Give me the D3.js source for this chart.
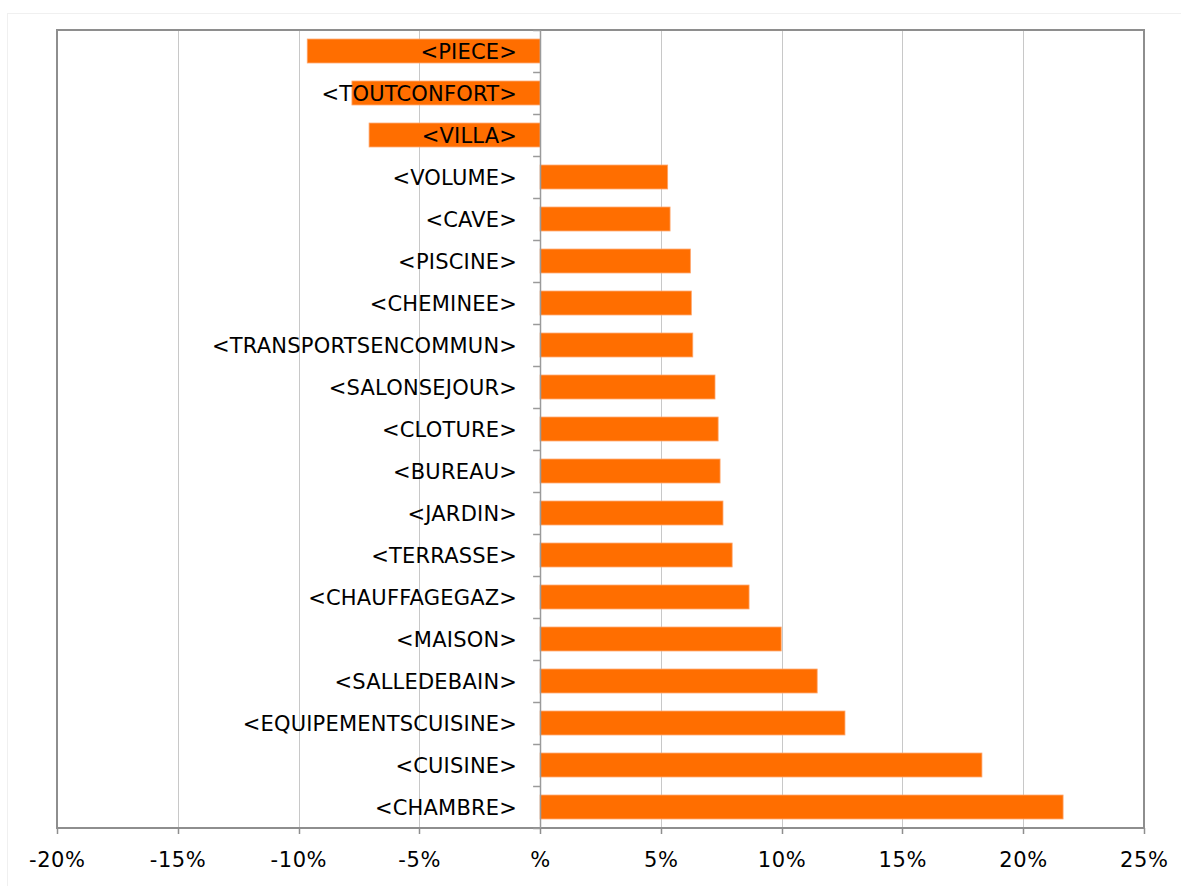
<!DOCTYPE html>
<html>
<head>
<meta charset="utf-8">
<script src="https://cdn.jsdelivr.net/npm/d3@7"></script>
<style>
  body { margin: 0; background: #fff; }
  text { font-family: "DejaVu Sans", Verdana, sans-serif; fill: #000; }
</style>
</head>
<body>
<svg id="bar"></svg>
<script>
// categories from top to bottom
var categories = ["<PIECE>", "<TOUTCONFORT>", "<VILLA>", "<VOLUME>", "<CAVE>", "<PISCINE>",
  "<CHEMINEE>", "<TRANSPORTSENCOMMUN>", "<SALONSEJOUR>", "<CLOTURE>", "<BUREAU>", "<JARDIN>",
  "<TERRASSE>", "<CHAUFFAGEGAZ>", "<MAISON>", "<SALLEDEBAIN>", "<EQUIPEMENTSCUISINE>",
  "<CUISINE>", "<CHAMBRE>"];

var values = [-0.0964, -0.0779, -0.0708, 0.0528, 0.0538, 0.0622,
  0.0626, 0.0632, 0.0724, 0.0737, 0.0745, 0.0757,
  0.0795, 0.0865, 0.0998, 0.1147, 0.1262,
  0.1829, 0.2165];

var tickValues = [-0.20, -0.15, -0.10, -0.05, 0, 0.05, 0.10, 0.15, 0.20, 0.25];
var tickLabels = ["-20%", "-15%", "-10%", "-5%", "%", "5%", "10%", "15%", "20%", "25%"];

var data = categories.map(function(c, i){ return {name: c, value: values[i]}; });

var W = 1181, H = 886;
var margin = {top: 30, right: 37, bottom: 58, left: 57},
    width = W - margin.left - margin.right,
    height = H - margin.top - margin.bottom;

var svg = d3.select("svg#bar")
    .attr("width", W)
    .attr("height", H);

// light outer frame (runs off the right and bottom edges)
svg.append("rect")
   .attr("x", 7.5).attr("y", 13.5)
   .attr("width", W).attr("height", H)
   .attr("fill", "none")
   .attr("stroke", "#f0f0f0");

var g = svg.append("g")
    .attr("transform", "translate(" + margin.left + "," + margin.top + ")");

var x = d3.scaleLinear()
    .domain([-0.20, 0.25])
    .range([0, width]);

var y = d3.scaleBand()
    .domain(categories)
    .range([0, height])
    .paddingInner(0.43)
    .paddingOuter(0.215);

// vertical gridlines
g.selectAll("line.grid")
 .data(tickValues.filter(function(d){ return d !== 0 && d !== -0.20 && d !== 0.25; }))
 .enter()
 .append("line")
 .attr("class", "grid")
 .attr("x1", function(d){ return Math.round(x(d)) + 0.5; })
 .attr("x2", function(d){ return Math.round(x(d)) + 0.5; })
 .attr("y1", 0)
 .attr("y2", height)
 .attr("stroke", "#c8c8c8")
 .attr("stroke-width", 1);

// bars
g.selectAll("rect.bar")
 .data(data)
 .enter()
 .append("rect")
 .attr("class", "bar")
 .attr("x", function(d){ return x(Math.min(0, d.value)); })
 .attr("y", function(d){ return y(d.name); })
 .attr("width", function(d){ return Math.abs(x(d.value) - x(0)); })
 .attr("height", y.bandwidth())
 .attr("fill", "#ff6e00")
 .attr("stroke", "#ffa468")
 .attr("stroke-width", 0.8);

// plot border
g.append("rect")
 .attr("x", 0).attr("y", 0)
 .attr("width", width).attr("height", height)
 .attr("fill", "none")
 .attr("stroke", "#8e8e8e")
 .attr("stroke-width", 2);

// zero axis line
g.append("line")
 .attr("x1", Math.round(x(0)) + 0.5).attr("x2", Math.round(x(0)) + 0.5)
 .attr("y1", 0).attr("y2", height)
 .attr("stroke", "#9a9a9a")
 .attr("stroke-width", 1.5);

// category boundary ticks on zero axis
g.selectAll("line.ytick")
 .data(d3.range(categories.length + 1))
 .enter()
 .append("line")
 .attr("class", "ytick")
 .attr("x1", x(0) - 7).attr("x2", x(0))
 .attr("y1", function(i){ return Math.round(i * y.step()) + 0.5; })
 .attr("y2", function(i){ return Math.round(i * y.step()) + 0.5; })
 .attr("stroke", "#9a9a9a")
 .attr("stroke-width", 1.5);

// bottom ticks
g.selectAll("line.xtick")
 .data(tickValues)
 .enter()
 .append("line")
 .attr("class", "xtick")
 .attr("x1", function(d){ return Math.round(x(d)) + 0.5; })
 .attr("x2", function(d){ return Math.round(x(d)) + 0.5; })
 .attr("y1", height).attr("y2", height + 6)
 .attr("stroke", "#8e8e8e")
 .attr("stroke-width", 1.5);

// x tick labels
g.selectAll("text.xlab")
 .data(tickValues)
 .enter()
 .append("text")
 .attr("class", "xlab")
 .attr("x", function(d){ return x(d) + 0.3; })
 .attr("y", height + 39)
 .style("text-anchor", "middle")
 .style("font-size", "21px")
 .style("letter-spacing", "0.6px")
 .text(function(d, i){ return tickLabels[i]; });

// category labels
g.selectAll("text.ylab")
 .data(data)
 .enter()
 .append("text")
 .attr("class", "ylab")
 .attr("x", x(0) - 23)
 .attr("y", function(d){ return y(d.name) + y.bandwidth() / 2; })
 .attr("dy", "0.36em")
 .style("text-anchor", "end")
 .style("font-size", "21px")
 .style("letter-spacing", "0.2px")
 .text(function(d){ return d.name; });
</script>
</body>
</html>
